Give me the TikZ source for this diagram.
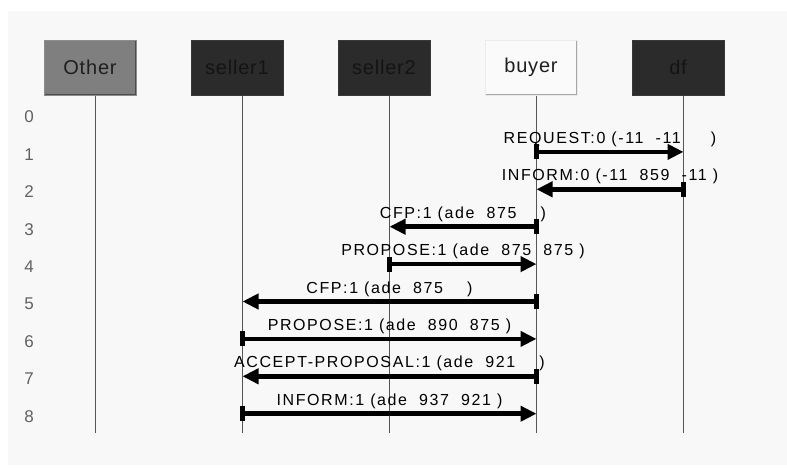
\documentclass[tikz,border=0pt]{standalone}
\usepackage{fontspec}
\setmainfont{Liberation Sans}
\newfontfamily\msgfont[LetterSpace=10]{Liberation Sans}
\newfontfamily\agentfont[LetterSpace=4]{Liberation Sans}
\usetikzlibrary{positioning,arrows.meta}
\definecolor{panelgray}{HTML}{F8F8F8}
\definecolor{othergray}{HTML}{7F7F7F}
\definecolor{agentdark}{HTML}{2B2B2B}
\definecolor{lifegray}{HTML}{555555}

\begin{document}
\begin{tikzpicture}[x=1pt, y=1pt,
    agent/.style={minimum width=92pt, minimum height=55pt, inner sep=0pt, line width=1pt,
                  font=\agentfont\fontsize{20}{22}\selectfont},
    shadeedge/.style={path picture={\draw[line width=2pt, #1]
                  (path picture bounding box.north east) -- (path picture bounding box.south east)
                  -- (path picture bounding box.south west);}},
    otherbox/.style={agent, fill=othergray, draw=black!45, text=black!88, shadeedge=black!70},
    darkbox/.style={agent, fill=agentdark, draw=black!78, text=black!92},
    buyerbox/.style={agent, fill=white!98!black, draw=black!8, text=black!88, shadeedge=black!35},
    lifeline/.style={draw=lifegray, line width=1pt},
    msg/.style={line width=4.5pt, arrows={Rectangle[length=5pt,width=15pt]-Triangle[length=16pt,width=15pt]},
                shorten <=-2.5pt},
    msglabel/.style={font=\msgfont\fontsize{16}{18}\selectfont, inner sep=0pt, yshift=12.5pt},
    rownum/.style={font=\fontsize{17}{19}\selectfont, text=black!62}]
  \useasboundingbox (0,0) rectangle (787,-467);
  \fill[panelgray] (8,-11) rectangle (787,-465);

  % agents
  \node[otherbox] (other) at (90,-67.5) {Other};
  \node[darkbox, right=54pt of other] (seller1) {seller1};
  \node[darkbox, right=54pt of seller1] (seller2) {seller2};
  \node[buyerbox, right=54pt of seller2] (buyer) {buyer};
  \node[darkbox, right=54pt of buyer] (df) {df};

  % lifelines
  \coordinate (bottom) at (0,-433);
  \foreach \a in {other,seller1,seller2,buyer,df} {
    \coordinate (\a-top) at ([xshift=5.5pt]\a.south);
    \draw[lifeline] (\a-top) -- (\a-top |- bottom);
  }

  % time steps
  \foreach \i in {0,...,8} {
    \node[rownum] (r\i) at (29,{-117-37.4*\i}) {\i};
    \coordinate (m\i) at (0,{-114.5-37.4*\i});
  }

  % messages
  \draw[msg] (buyer-top |- m1) -- node[msglabel] {REQUEST:0 (-11~~-11~~~~~)} (df-top |- m1);
  \draw[msg] (df-top |- m2) -- node[msglabel] {INFORM:0 (-11~~859~~-11 )} (buyer-top |- m2);
  \draw[msg] (buyer-top |- m3) -- node[msglabel] {CFP:1 (ade~~875~~~~)} (seller2-top |- m3);
  \draw[msg] (seller2-top |- m4) -- node[msglabel] {PROPOSE:1 (ade~~875~~875 )} (buyer-top |- m4);
  \draw[msg] (buyer-top |- m5) -- node[msglabel] {CFP:1 (ade~~875~~~~)} (seller1-top |- m5);
  \draw[msg] (seller1-top |- m6) -- node[msglabel] {PROPOSE:1 (ade~~890~~875 )} (buyer-top |- m6);
  \draw[msg] (buyer-top |- m7) -- node[msglabel] {ACCEPT-PROPOSAL:1 (ade~~921~~~~)} (seller1-top |- m7);
  \draw[msg] (seller1-top |- m8) -- node[msglabel] {INFORM:1 (ade~~937~~921 )} (buyer-top |- m8);
\end{tikzpicture}
\end{document}
